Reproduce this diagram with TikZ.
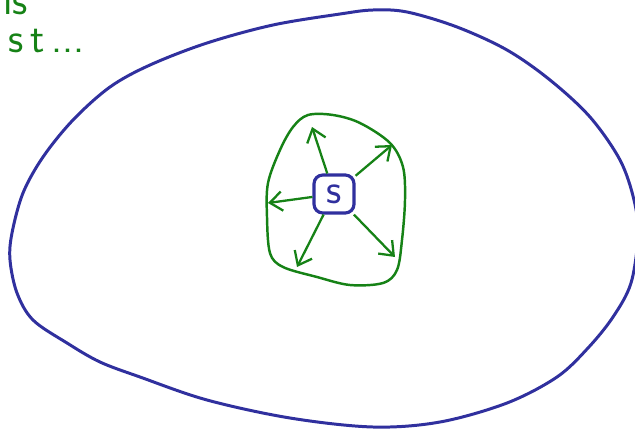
\documentclass[tikz,border=0pt]{standalone}
\usetikzlibrary{arrows.meta}
\definecolor{tintaazul}{RGB}{48,48,158}
\definecolor{tintaverde}{RGB}{22,130,22}
\tikzset{
  every node/.style={font=\sffamily\fontsize{24}{28}\selectfont},
  contorno/.style={draw=tintaazul,line width=1.7pt,line join=round},
  fronteira/.style={draw=tintaverde,line width=1.4pt,line join=round},
  fonte/.style={
    draw=tintaazul,
    line width=1.8pt,
    rounded corners=5pt,
    minimum width=0.80cm,
    minimum height=0.76cm,
    inner sep=0pt,
    text=tintaazul,
    fill=white
  },
  seta/.style={draw=tintaverde,line width=1.3pt,
    -{Straight Barb[length=7pt,width=11pt,line width=1.3pt]}},
  nota/.style={text=tintaverde,anchor=base west,inner sep=0pt,
    font=\sffamily\fontsize{24}{28}\selectfont}
}

\begin{document}
\begin{tikzpicture}[x=0.02cm,y=-0.02cm]
  % Moldura com as proporções da figura (coordenadas em pixels).
  \useasboundingbox (0,0) rectangle (635,429);

  % Texto cortado no canto superior esquerdo.
  \node[nota] (nota-a) at (3,15) {is};
  \node[nota] (nota-b) at (8,53) {s\,t\,...};

  % Contorno azul grande.
  \draw[contorno] plot[smooth cycle,tension=0.55] coordinates {
    (340,14) (373,10) (407,12) (457,27) (507,50) (550,80) (590,117)
    (620,160) (634,200) (638,235) (631,283) (613,317) (588,348)
    (557,377) (507,403) (440,422) (373,427) (290,418) (207,400)
    (140,377) (100,362) (67,343) (33,320) (17,293) (10,260) (12,233)
    (23,193) (43,157) (73,120) (110,87) (150,65) (207,43) (273,25)};

  % Fronteira verde em volta da origem.
  \draw[fronteira] plot[smooth cycle,tension=0.55] coordinates {
    (308,115) (333,115) (360,123) (390,143) (403,167) (405,200)
    (402,240) (397,270) (383,283) (350,285) (317,277) (283,267)
    (270,253) (267,217) (268,183) (280,150) (293,127)};

  % Pontas das setas.
  \coordinate (norte) at (312,127);
  \coordinate (nordeste) at (392,145);
  \coordinate (oeste) at (268,203);
  \coordinate (sudoeste) at (297,267);
  \coordinate (sudeste) at (395,257);

  % Origem e setas.
  \node[fonte] (s) at (334,194) {s};
  \foreach \ponta in {norte,nordeste,oeste,sudoeste,sudeste}
    \draw[seta] (s) -- (\ponta);
\end{tikzpicture}
\end{document}
